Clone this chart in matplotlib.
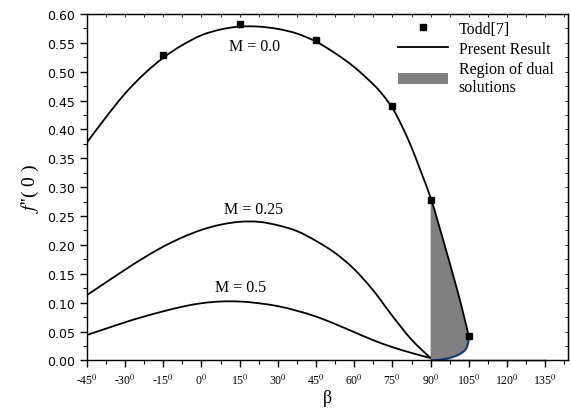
import numpy as np
import matplotlib.pyplot as plt
from matplotlib.lines import Line2D
from matplotlib.patches import Patch, PathPatch
from matplotlib.path import Path

plt.rcParams['mathtext.fontset'] = 'stix'

# beta in degrees
beta = np.array([-45, -37.5, -30, -22.5, -15, -7.5, 0, 7.5, 15, 22.5, 30, 37.5, 45, 52.5, 60, 67.5, 71, 75, 78.5, 82.5, 86, 90])
m00 = np.array([0.377, 0.421, 0.462, 0.496, 0.524, 0.546, 0.563, 0.573, 0.578, 0.578, 0.574, 0.566, 0.552, 0.532, 0.508, 0.478, 0.461, 0.437, 0.408, 0.369, 0.329, 0.282])
beta2 = np.array([-45, -37.5, -30, -22.5, -15, -7.5, 0, 7.5, 15, 22.5, 30, 37.5, 45, 52.5, 60, 67.5, 75, 82.5, 90])
m025 = np.array([0.113, 0.135, 0.157, 0.178, 0.197, 0.213, 0.226, 0.235, 0.240, 0.240, 0.234, 0.224, 0.207, 0.186, 0.158, 0.121, 0.077, 0.036, 0.004])
m05 = np.array([0.044, 0.055, 0.066, 0.076, 0.085, 0.093, 0.099, 0.102, 0.102, 0.099, 0.094, 0.086, 0.076, 0.063, 0.049, 0.035, 0.023, 0.013, 0.004])

# dual solution branches (M = 0.0)
upper_beta = np.array([90, 93, 96, 99, 102, 105])
upper_v = np.array([0.282, 0.238, 0.192, 0.145, 0.096, 0.042])
lower_beta = np.array([105, 104.6, 103.5, 101, 98, 95, 92, 90])
lower_v = np.array([0.042, 0.028, 0.018, 0.010, 0.005, 0.002, 0.0005, 0.0])

tail_beta = np.array([90, 135])
tail_v = np.array([0.0, 0.0])

todd_beta = np.array([-15, 15, 45, 75, 90, 105])
todd_v = np.array([0.528, 0.582, 0.554, 0.440, 0.277, 0.042])

xticks = [-45, -30, -15, 0, 15, 30, 45, 60, 75, 90, 105, 120, 135]
yticks = [0.00, 0.05, 0.10, 0.15, 0.20, 0.25, 0.30, 0.35, 0.40, 0.45, 0.50, 0.55, 0.60]


def smooth_path(x, y):
    # Catmull-Rom curve through the points, drawn as cubic Bezier segments
    p = np.column_stack([x, y])
    pts = np.vstack([p[0], p, p[-1]])
    verts = [p[0]]
    codes = [Path.MOVETO]
    for i in range(1, len(pts) - 2):
        c1 = pts[i] + (pts[i + 1] - pts[i - 1]) / 6
        c2 = pts[i + 1] - (pts[i + 2] - pts[i]) / 6
        verts += [c1, c2, pts[i + 1]]
        codes += [Path.CURVE4] * 3
    return Path(verts, codes)


def curve(ax, x, y, **kw):
    ax.add_patch(PathPatch(smooth_path(x, y), fill=False, **kw))


fig = plt.figure(figsize=(5.71, 4.14), dpi=100)
ax = fig.add_axes([0.152, 0.127, 0.843, 0.837])

# gray region of dual solutions: upper branch, then lower branch back to 90
up = smooth_path(upper_beta, upper_v)
lo = smooth_path(lower_beta, lower_v)
reg_verts = np.vstack([up.vertices, lo.vertices, [[90, upper_v[0]]]])
reg_codes = list(up.codes) + [Path.LINETO] + list(lo.codes[1:]) + [Path.CLOSEPOLY]
ax.add_patch(PathPatch(Path(reg_verts, reg_codes), facecolor='#808080', edgecolor='none'))

curve(ax, np.concatenate([beta, upper_beta[1:]]), np.concatenate([m00, upper_v[1:]]), color='k', lw=1.3)
curve(ax, lower_beta, lower_v, color='#1d3b78', lw=1.6)
curve(ax, beta2, m025, color='k', lw=1.3)
curve(ax, beta2, m05, color='k', lw=1.3)
ax.plot(tail_beta, tail_v, 'k-', lw=1.0, clip_on=False)
ax.plot(todd_beta, todd_v, 's', color='k', ms=4.5, clip_on=False)

serif = 'Liberation Serif'
ax.text(21, 0.544, 'M = 0.0', ha='center', va='center', fontsize=11.5, family=serif)
ax.text(20.3, 0.263, 'M = 0.25', ha='center', va='center', fontsize=11.5, family=serif)
ax.text(15.3, 0.127, 'M = 0.5', ha='center', va='center', fontsize=11.5, family=serif)

ax.set_xlim(-45, 144)
ax.set_ylim(0, 0.60)
ax.set_xticks(xticks)
ax.set_xticklabels([f'{t}$^0$' for t in xticks], family=serif, fontsize=8.5)
ax.set_xticks(np.arange(-37.5, 144, 15), minor=True)
ax.set_yticks(yticks)
ax.set_yticklabels([f'{t:.2f}' for t in yticks], fontsize=9)
ax.set_yticks(np.arange(0.025, 0.6, 0.05), minor=True)
ax.tick_params(which='major', length=5, width=1.0, direction='out')
ax.tick_params(which='minor', length=3, width=0.8, direction='out')

top = ax.secondary_xaxis('top')
top.set_xticks(np.arange(-45, 144, 7.5))
top.tick_params(direction='in', length=2.5, width=0.6, labeltop=False)
right = ax.secondary_yaxis('right')
right.set_yticks(np.arange(0, 0.601, 0.025))
right.tick_params(direction='in', length=2.5, width=0.6, labelright=False)

for s in ax.spines.values():
    s.set_linewidth(1.0)

ax.set_xlabel('β', family=serif, fontsize=13, labelpad=2)
ax.set_ylabel(r"$f$''( 0 )", family=serif, fontsize=14, labelpad=4)

handles = [Line2D([], [], marker='s', color='k', ls='none', ms=5),
           Line2D([], [], color='k', lw=1.3),
           Patch(facecolor='#808080', edgecolor='none')]
labels = ['Todd[7]', 'Present Result', 'Region of dual\nsolutions']
ax.legend(handles, labels, loc='upper left', bbox_to_anchor=(0.64, 0.99), frameon=False,
          prop={'family': serif, 'size': 11.5}, handlelength=3.1, handletextpad=0.7,
          labelspacing=0.25, borderaxespad=0, borderpad=0.2)

fig.savefig('out.png', dpi=100)
